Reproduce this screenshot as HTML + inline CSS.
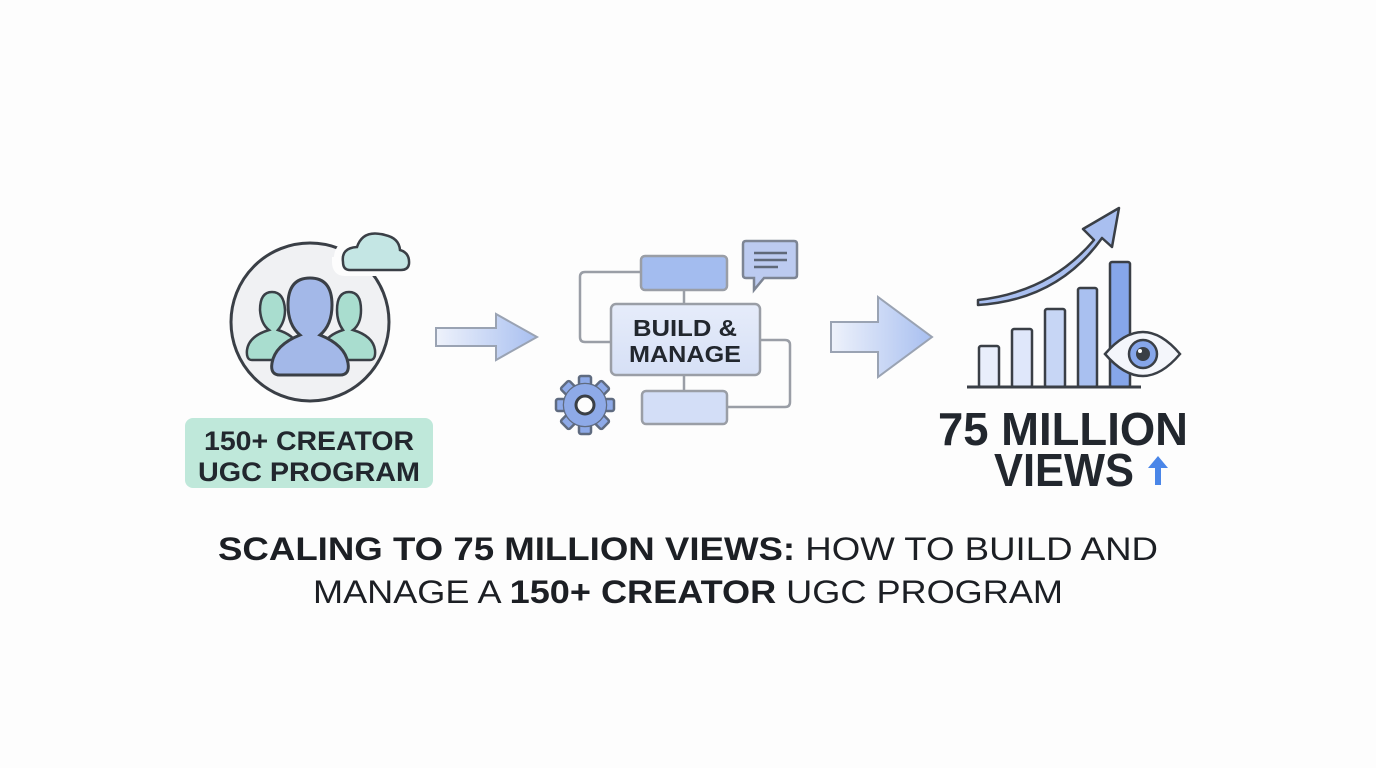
<!DOCTYPE html>
<html><head><meta charset="utf-8"><style>
html,body{margin:0;padding:0;background:#fdfdfd;}
svg{display:block;}
text{font-family:"Liberation Sans","DejaVu Sans",sans-serif;}
</style></head><body>
<svg width="1376" height="768" viewBox="0 0 1376 768" xmlns="http://www.w3.org/2000/svg">
<defs>
<linearGradient id="ag" x1="0" x2="1" y1="0" y2="0"><stop offset="0" stop-color="#eef2fb"/><stop offset="1" stop-color="#a8bff0"/></linearGradient>
<linearGradient id="bg1" x1="0" x2="0" y1="0" y2="1"><stop offset="0" stop-color="#e6ecfa"/><stop offset="1" stop-color="#d6e0f6"/></linearGradient>
</defs>
<rect width="1376" height="768" fill="#fdfdfd"/>

<!-- Left group -->
<circle cx="310" cy="322" r="79" fill="#f0f1f3" stroke="#3a3f46" stroke-width="3"/>
<path d="M339 262 q-2-18 18-18 q8-20 30-12 q14 0 16 16 q10 4 8 16 q-1 7-8 7 h-58 q-8 0-8-9z" fill="#fdfdfd" stroke="#fdfdfd" stroke-width="10"/>
<path d="M343 262 q-2-14 14-15 q6-18 28-12 q14 3 15 15 q10 3 9 14 q-1 6-8 6 h-51 q-7 0-7-8z" fill="#c4e6e4" stroke="#3a3f46" stroke-width="2.5"/>
<path d="M252 360 q-6 0-5-10 q2-14 22-20 q-8-6-9-20 q0-18 12-18 q12 0 13 18 q0 12-7 20 q16 5 20 16 l0 14z" fill="#a9ddcf" stroke="#3a3f46" stroke-width="2.5"/>
<path d="M370 360 q6 0 5-10 q-2-14-22-20 q8-6 8-20 q0-18-12-18 q-12 0-12 18 q0 12 6 20 q-16 5-20 16 l0 14z" fill="#a9ddcf" stroke="#3a3f46" stroke-width="2.5"/>
<path d="M280 375 q-10 0-8-12 q3-18 28-28 q-12-10-12-30 q0-27 22-27 q22 0 22 27 q0 20-12 30 q25 10 28 28 q2 12-8 12z" fill="#a3b8e8" stroke="#3a3f46" stroke-width="3"/>
<rect x="185" y="418" width="248" height="70" rx="8" fill="#bfe8da"/>
<text x="309" y="450" font-size="27" font-weight="bold" fill="#22272e" text-anchor="middle" textLength="210" lengthAdjust="spacingAndGlyphs">150+ CREATOR</text>
<text x="309" y="481" font-size="27" font-weight="bold" fill="#22272e" text-anchor="middle" textLength="222" lengthAdjust="spacingAndGlyphs">UGC PROGRAM</text>

<!-- Arrow 1 -->
<path d="M436 328 h60 v-14 l41 23 l-41 23 v-14 h-60z" fill="url(#ag)" stroke="#9aa3b3" stroke-width="2"/>

<!-- Middle -->
<path d="M640 272 h-55 q-5 0-5 5 v60 q0 5 5 5 h25" fill="none" stroke="#9a9ea6" stroke-width="2.5"/>
<path d="M760 340 h25 q5 0 5 5 v57 q0 5-5 5 h-58" fill="none" stroke="#9a9ea6" stroke-width="2.5"/>
<line x1="684" y1="290" x2="684" y2="303" stroke="#9a9ea6" stroke-width="2.5"/>
<line x1="684" y1="375" x2="684" y2="390" stroke="#9a9ea6" stroke-width="2.5"/>
<rect x="641" y="256" width="86" height="34" rx="4" fill="#a3bcef" stroke="#9a9ea6" stroke-width="2.5"/>
<rect x="611" y="304" width="149" height="71" rx="5" fill="url(#bg1)" stroke="#9a9ea6" stroke-width="2.5"/>
<text x="685" y="336" font-size="23" font-weight="bold" fill="#22272e" text-anchor="middle" textLength="104" lengthAdjust="spacingAndGlyphs">BUILD &amp;</text>
<text x="685" y="362" font-size="23" font-weight="bold" fill="#22272e" text-anchor="middle" textLength="112" lengthAdjust="spacingAndGlyphs">MANAGE</text>
<rect x="642" y="391" width="85" height="33" rx="4" fill="#d3def7" stroke="#9a9ea6" stroke-width="2.5"/>
<path d="M746 241 h48 q3 0 3 3 v31 q0 3-3 3 h-30 l-10 12 v-12 h-8 q-3 0-3-3 v-31 q0-3 3-3z" fill="#bccbf0" stroke="#7d8594" stroke-width="2.5"/>
<line x1="754" y1="253" x2="787" y2="253" stroke="#5f6978" stroke-width="2.5"/>
<line x1="754" y1="260" x2="787" y2="260" stroke="#5f6978" stroke-width="2.5"/>
<line x1="754" y1="267" x2="778" y2="267" stroke="#5f6978" stroke-width="2.5"/>
<!-- gear -->
<g transform="translate(585,405)" fill="#8eaae8" stroke="#5f6b80" stroke-width="2.5">
<g id="teeth">
<rect x="-6" y="-29" width="12" height="14" rx="2"/>
<rect x="-6" y="-29" width="12" height="14" rx="2" transform="rotate(45)"/>
<rect x="-6" y="-29" width="12" height="14" rx="2" transform="rotate(90)"/>
<rect x="-6" y="-29" width="12" height="14" rx="2" transform="rotate(135)"/>
<rect x="-6" y="-29" width="12" height="14" rx="2" transform="rotate(180)"/>
<rect x="-6" y="-29" width="12" height="14" rx="2" transform="rotate(225)"/>
<rect x="-6" y="-29" width="12" height="14" rx="2" transform="rotate(270)"/>
<rect x="-6" y="-29" width="12" height="14" rx="2" transform="rotate(315)"/>
</g>
<circle r="21"/>
<circle r="21" stroke="none"/>
<circle r="9" fill="#fdfdfd" stroke="#3a3f46" stroke-width="3"/>
</g>

<!-- Arrow 2 -->
<path d="M831 322 h47 v-25 l54 40 l-54 40 v-25 h-47z" fill="url(#ag)" stroke="#9aa3b3" stroke-width="2"/>

<!-- Chart -->
<path d="M978 300 Q1050 292 1094 240 L1083 229 L1119 208 L1112 247 L1102 238 Q1058 300 978 305 Z" fill="#a9bff0" stroke="#3a3f46" stroke-width="2.5" stroke-linejoin="round"/>
<rect x="979" y="346" width="20" height="41" rx="2" fill="#e8eefb" stroke="#3a3f46" stroke-width="2.5"/>
<rect x="1012" y="329" width="20" height="58" rx="2" fill="#dfe7fa" stroke="#3a3f46" stroke-width="2.5"/>
<rect x="1045" y="309" width="20" height="78" rx="2" fill="#c7d6f5" stroke="#3a3f46" stroke-width="2.5"/>
<rect x="1078" y="288" width="19" height="99" rx="2" fill="#a9c0f0" stroke="#3a3f46" stroke-width="2.5"/>
<rect x="1110" y="262" width="20" height="125" rx="2" fill="#86a6ea" stroke="#3a3f46" stroke-width="2.5"/>
<line x1="967" y1="387" x2="1141" y2="387" stroke="#3a3f46" stroke-width="3"/>
<path d="M1105 354 q38-44 75 0 q-37 44-75 0z" fill="#f4f6fb" stroke="#3a3f46" stroke-width="2.5"/>
<circle cx="1143" cy="354" r="14" fill="#86a6ea" stroke="#3a3f46" stroke-width="2.5"/>
<circle cx="1143" cy="354" r="7" fill="#3a3f46"/>
<circle cx="1140" cy="351" r="2" fill="#fff"/>
<text x="1063" y="445" font-size="46" font-weight="bold" fill="#22272e" text-anchor="middle" textLength="250" lengthAdjust="spacingAndGlyphs">75 MILLION</text>
<text x="1064" y="486" font-size="46" font-weight="bold" fill="#22272e" text-anchor="middle" textLength="140" lengthAdjust="spacingAndGlyphs">VIEWS</text>
<path d="M1158 456 l-10 12 h7 v17 h6 v-17 h7z" fill="#4a86e8"/>

<!-- Title -->
<text x="688" y="560" font-size="32" fill="#1c1f24" text-anchor="middle" textLength="940" lengthAdjust="spacingAndGlyphs"><tspan font-weight="bold">SCALING TO 75 MILLION VIEWS:</tspan> HOW TO BUILD AND</text>
<text x="688" y="603" font-size="32" fill="#1c1f24" text-anchor="middle" textLength="750" lengthAdjust="spacingAndGlyphs">MANAGE A <tspan font-weight="bold">150+ CREATOR</tspan> UGC PROGRAM</text>
</svg>
</body></html>
